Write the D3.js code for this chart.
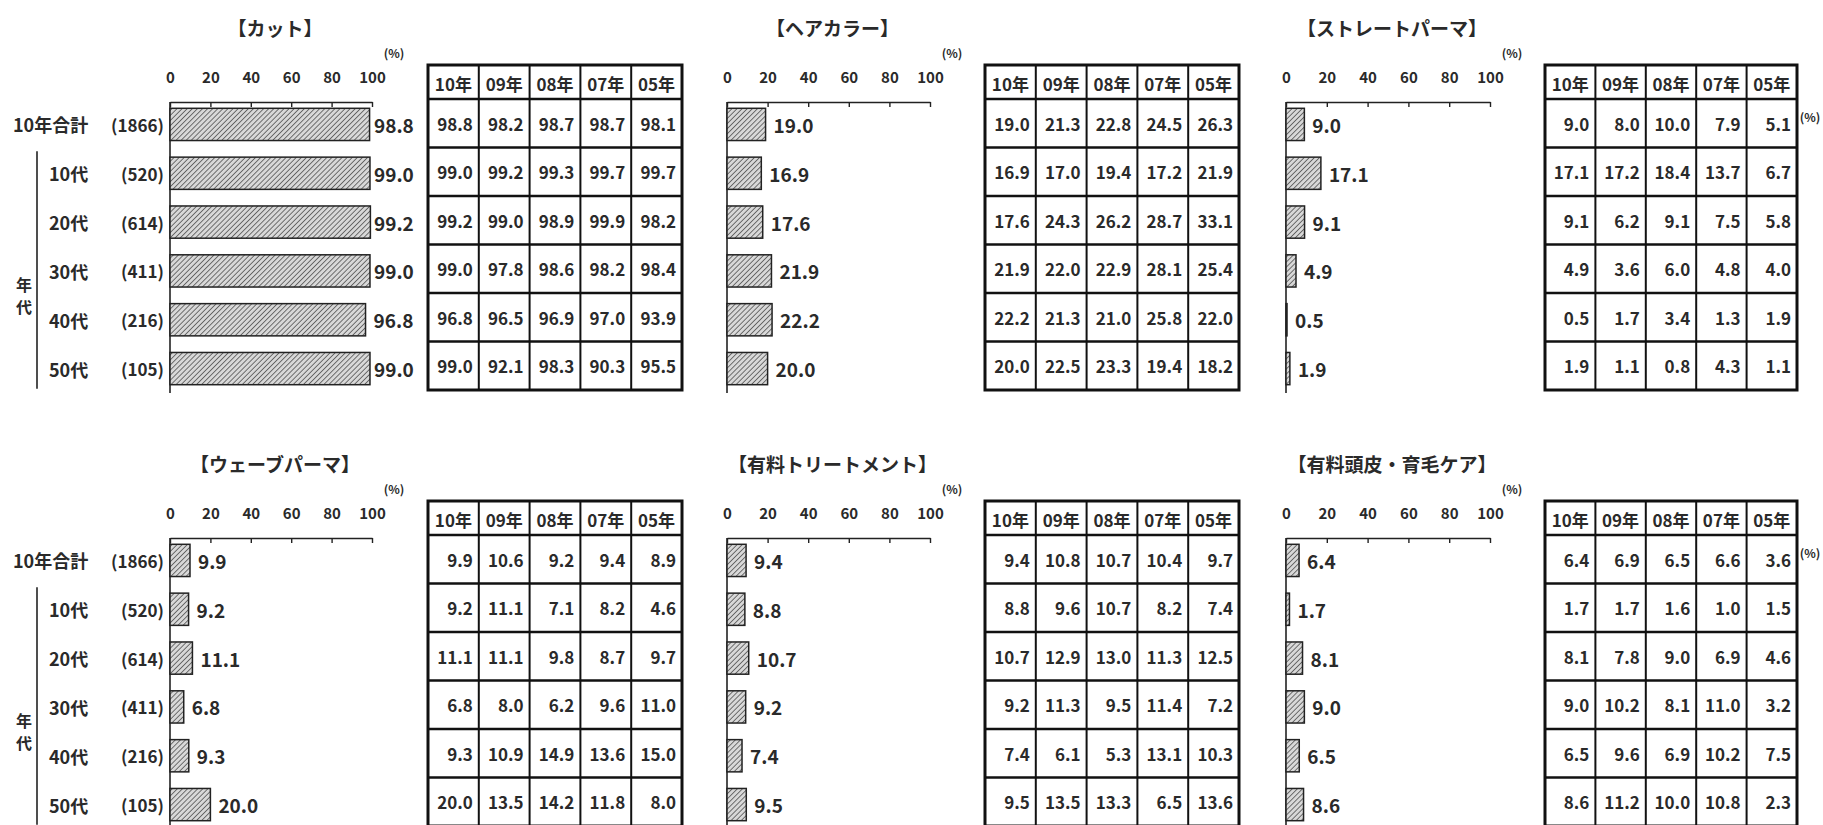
<!DOCTYPE html>
<html><head><meta charset="utf-8">
<script src="https://cdn.jsdelivr.net/npm/d3@7"></script>
<style>
body{margin:0;background:#fff}
svg{display:block}
text{font-family:"Noto Sans CJK JP","Noto Sans",sans-serif;fill:#2a2a2a;font-weight:bold}
</style>
</head><body>
<svg id="chart" width="1823" height="825"></svg>
<script>
// ---------- data ----------
const rowLabels = ["10年合計", "10代", "20代", "30代", "40代", "50代"];
const sampleSizes = ["(1866)", "(520)", "(614)", "(411)", "(216)", "(105)"];
const yearLabels = ["10年", "09年", "08年", "07年", "05年"];
const tickValues = [0, 20, 40, 60, 80, 100];
const groupLabel = "年代";

const panelTitles = ["【カット】", "【ヘアカラー】", "【ストレートパーマ】",
                     "【ウェーブパーマ】", "【有料トリートメント】", "【有料頭皮・育毛ケア】"];

// rows = 10年合計, 10代..50代 ; columns = 10年, 09年, 08年, 07年, 05年
const cutValues = [
  [98.8, 98.2, 98.7, 98.7, 98.1],
  [99.0, 99.2, 99.3, 99.7, 99.7],
  [99.2, 99.0, 98.9, 99.9, 98.2],
  [99.0, 97.8, 98.6, 98.2, 98.4],
  [96.8, 96.5, 96.9, 97.0, 93.9],
  [99.0, 92.1, 98.3, 90.3, 95.5]
];
const hairColorValues = [
  [19.0, 21.3, 22.8, 24.5, 26.3],
  [16.9, 17.0, 19.4, 17.2, 21.9],
  [17.6, 24.3, 26.2, 28.7, 33.1],
  [21.9, 22.0, 22.9, 28.1, 25.4],
  [22.2, 21.3, 21.0, 25.8, 22.0],
  [20.0, 22.5, 23.3, 19.4, 18.2]
];
const straightPermValues = [
  [9.0, 8.0, 10.0, 7.9, 5.1],
  [17.1, 17.2, 18.4, 13.7, 6.7],
  [9.1, 6.2, 9.1, 7.5, 5.8],
  [4.9, 3.6, 6.0, 4.8, 4.0],
  [0.5, 1.7, 3.4, 1.3, 1.9],
  [1.9, 1.1, 0.8, 4.3, 1.1]
];
const wavePermValues = [
  [9.9, 10.6, 9.2, 9.4, 8.9],
  [9.2, 11.1, 7.1, 8.2, 4.6],
  [11.1, 11.1, 9.8, 8.7, 9.7],
  [6.8, 8.0, 6.2, 9.6, 11.0],
  [9.3, 10.9, 14.9, 13.6, 15.0],
  [20.0, 13.5, 14.2, 11.8, 8.0]
];
const treatmentValues = [
  [9.4, 10.8, 10.7, 10.4, 9.7],
  [8.8, 9.6, 10.7, 8.2, 7.4],
  [10.7, 12.9, 13.0, 11.3, 12.5],
  [9.2, 11.3, 9.5, 11.4, 7.2],
  [7.4, 6.1, 5.3, 13.1, 10.3],
  [9.5, 13.5, 13.3, 6.5, 13.6]
];
const scalpCareValues = [
  [6.4, 6.9, 6.5, 6.6, 3.6],
  [1.7, 1.7, 1.6, 1.0, 1.5],
  [8.1, 7.8, 9.0, 6.9, 4.6],
  [9.0, 10.2, 8.1, 11.0, 3.2],
  [6.5, 9.6, 6.9, 10.2, 7.5],
  [8.6, 11.2, 10.0, 10.8, 2.3]
];

const panelValues = [cutValues, hairColorValues, straightPermValues,
                     wavePermValues, treatmentValues, scalpCareValues];

// ---------- layout ----------
const colAxisLeft = [170, 727, 1286];
const colAxisRight = [372, 930, 1490];
const colTableLeft = [428, 985, 1545];
const colTableRight = [682, 1239, 1797];
const rowOffset = [0, 436];

const svg = d3.select("#chart");
const defs = svg.append("defs");
const pat = defs.append("pattern")
  .attr("id", "hatch").attr("patternUnits", "userSpaceOnUse")
  .attr("width", 3.6).attr("height", 3.6)
  .attr("patternTransform", "rotate(45)");
pat.append("rect").attr("width", 3.6).attr("height", 3.6).attr("fill", "#d8d8d8");
pat.append("line").attr("x1", 0).attr("y1", 0).attr("x2", 0).attr("y2", 3.6)
  .attr("stroke", "#333").attr("stroke-width", 1.3);

panelTitles.forEach((title, p) => {
  const col = p % 3, row = Math.floor(p / 3);
  const oy = rowOffset[row];
  const values = panelValues[p];
  const g = svg.append("g").attr("transform", `translate(0,${oy})`);

  const x = d3.scaleLinear().domain([0, 100]).range([colAxisLeft[col], colAxisRight[col]]);
  const y = d3.scaleBand().domain(rowLabels).range([100, 393])
    .paddingInner(0.34).paddingOuter(0.17);

  // title
  g.append("text")
    .attr("x", (x(0) + x(100)) / 2 + 4).attr("y", 27)
    .attr("text-anchor", "middle").attr("dominant-baseline", "central")
    .style("font-size", "19px")
    .text(title);

  // (%) unit above the axis
  g.append("text")
    .attr("x", x(100) + 22).attr("y", 52)
    .attr("text-anchor", "middle").attr("dominant-baseline", "central")
    .style("font-size", "12px")
    .text("(%)");

  // top axis
  const axis = d3.axisTop(x).tickValues(tickValues)
    .tickSizeInner(-5).tickSizeOuter(0).tickPadding(19);
  const ag = g.append("g").attr("transform", "translate(0,102)").call(axis);
  ag.select(".domain").attr("stroke", "#222").attr("stroke-width", 1.6);
  ag.selectAll(".tick line").attr("stroke", "#222").attr("stroke-width", 1.4);
  ag.selectAll(".tick text")
    .style("font-size", "15px").style("font-weight", "bold")
    .style("font-family", '"Noto Sans CJK JP",sans-serif')
    .attr("fill", "#2a2a2a");

  // vertical baseline
  g.append("line")
    .attr("x1", x(0)).attr("x2", x(0))
    .attr("y1", 102).attr("y2", row === 0 ? 393 : 825 - oy)
    .attr("stroke", "#222").attr("stroke-width", 1.6);

  // bars (10年 values)
  const barData = values.map((r, i) => ({ label: rowLabels[i], v: r[0] }));
  g.selectAll("rect.bar").data(barData).join("rect")
    .attr("class", "bar")
    .attr("x", x(0))
    .attr("y", d => y(d.label))
    .attr("width", d => x(d.v) - x(0))
    .attr("height", y.bandwidth())
    .attr("fill", "url(#hatch)")
    .attr("stroke", "#222").attr("stroke-width", 1.5);

  g.selectAll("text.val").data(barData).join("text")
    .attr("class", "val")
    .attr("x", d => Math.min(x(d.v) + 8, x(100) + 2))
    .attr("y", d => y(d.label) + y.bandwidth() / 2)
    .attr("dominant-baseline", "central")
    .style("font-size", "19px")
    .text(d => d.v.toFixed(1));

  // row labels (left column only)
  if (col === 0) {
    g.selectAll("text.rl").data(rowLabels).join("text")
      .attr("class", "rl")
      .attr("x", (d, i) => i === 0 ? 13 : 49)
      .attr("y", d => y(d) + y.bandwidth() / 2)
      .attr("dominant-baseline", "central")
      .style("font-size", "18px")
      .text(d => d);
    g.selectAll("text.ss").data(sampleSizes).join("text")
      .attr("class", "ss")
      .attr("x", x(0) - 6)
      .attr("y", (d, i) => y(rowLabels[i]) + y.bandwidth() / 2)
      .attr("text-anchor", "end").attr("dominant-baseline", "central")
      .style("font-size", "17px")
      .text(d => d);
    // bracket line for age group
    g.append("line")
      .attr("x1", 37).attr("x2", 37)
      .attr("y1", y(rowLabels[1]) - 6)
      .attr("y2", y(rowLabels[5]) + y.bandwidth() + 4)
      .attr("stroke", "#222").attr("stroke-width", 1.6);
    const midY = (y(rowLabels[1]) + y(rowLabels[5]) + y.bandwidth()) / 2 + 24;
    groupLabel.split("").forEach((ch, k) => {
      g.append("text")
        .attr("x", 24).attr("y", midY - 11 + k * 22)
        .attr("text-anchor", "middle").attr("dominant-baseline", "central")
        .style("font-size", "16px")
        .text(ch);
    });
  }

  // ---------- table ----------
  const tx = d3.scaleBand().domain(yearLabels).range([colTableLeft[col], colTableRight[col]]);
  const ty = d3.scaleBand().domain(rowLabels).range([99, 390]);
  const headerTop = 65, headerBottom = 99;
  const tg = g.append("g");

  // header texts
  tg.selectAll("text.hd").data(yearLabels).join("text")
    .attr("class", "hd")
    .attr("x", d => tx(d) + tx.bandwidth() / 2)
    .attr("y", (headerTop + headerBottom) / 2 + 1)
    .attr("text-anchor", "middle").attr("dominant-baseline", "central")
    .style("font-size", "17px")
    .text(d => d);

  // cells
  const cells = [];
  values.forEach((r, i) => r.forEach((v, j) => cells.push({ r: rowLabels[i], c: yearLabels[j], v })));
  tg.selectAll("text.cell").data(cells).join("text")
    .attr("class", "cell")
    .attr("x", d => tx(d.c) + tx.bandwidth() - 6)
    .attr("y", d => ty(d.r) + ty.bandwidth() / 2)
    .attr("text-anchor", "end").attr("dominant-baseline", "central")
    .style("font-size", "17px")
    .text(d => d.v.toFixed(1));

  // grid lines
  const hLines = [headerBottom].concat(rowLabels.slice(1).map(d => ty(d)));
  tg.selectAll("line.h").data(hLines).join("line")
    .attr("class", "h")
    .attr("x1", tx.range()[0]).attr("x2", tx.range()[1])
    .attr("y1", d => d).attr("y2", d => d)
    .attr("stroke", "#111").attr("stroke-width", 2.6);
  tg.selectAll("line.v").data(yearLabels.slice(1)).join("line")
    .attr("class", "v")
    .attr("x1", d => tx(d)).attr("x2", d => tx(d))
    .attr("y1", headerTop).attr("y2", ty.range()[1])
    .attr("stroke", "#111").attr("stroke-width", 2);
  tg.append("rect")
    .attr("x", tx.range()[0]).attr("y", headerTop)
    .attr("width", tx.range()[1] - tx.range()[0])
    .attr("height", ty.range()[1] - headerTop)
    .attr("fill", "none").attr("stroke", "#111").attr("stroke-width", 3);

  // (%) to the right of right-hand tables
  if (col === 2) {
    g.append("text")
      .attr("x", colTableRight[col] + 13).attr("y", 116)
      .attr("text-anchor", "middle").attr("dominant-baseline", "central")
      .style("font-size", "12px")
      .text("(%)");
  }
});
</script>
</body></html>
